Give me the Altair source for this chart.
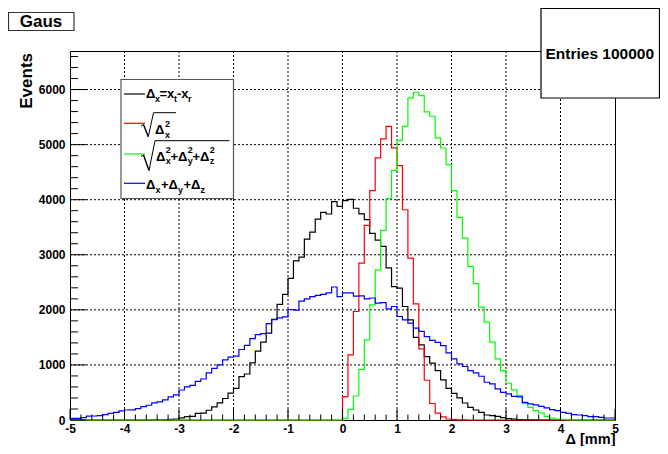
import altair as alt
import pandas as pd

# ---- data: 100 bins of width 0.1 from -5 to 5 ----
bin_left = [round(-5.0 + 0.1 * i, 1) for i in range(100)]

black = [0,0,0,0,0,0,0,0,0,0,
         0,0,0,0,0,1,2,6,12,18,
         37,61,67,122,125,177,238,311,390,488,
         573,787,835,1037,1250,1415,1579,1829,2098,2280,
         2570,2890,2958,3285,3412,3648,3770,3740,3964,3879,
         3982,4005,3845,3742,3640,3388,3267,3152,2763,2420,
         2394,2061,1818,1500,1364,1150,1031,898,728,576,
         485,400,309,230,182,139,91,80,66,42,
         24,15,8,4,2,1,0,0,0,0,
         0,0,0,0,0,0,0,0,0,0]

red = [0]*50 + [424,1182,1970,2848,3533,4164,4758,5103,5333,4940,
                4618,3818,2940,2109,1290,722,300,125,58,18,
                6,2,1,0,0,0,0,0,0,0,
                0,0,0,0,0,0,0,0,0,0,
                0,0,0,0,0,0,0,0,0,0]

green = [0]*50 + [30,194,436,921,1455,2091,2720,3442,4018,4533,
                  5078,5333,5848,5951,5891,5594,5515,5121,4939,4636,
                  4164,3679,3303,2790,2477,2051,1778,1414,1111,898,
                  667,546,443,302,230,169,127,66,36,18,
                  12,6,3,2,1,1,0,0,0,0]

blue = [28,30,42,70,73,79,97,122,140,164,
        182,185,207,243,268,310,328,365,420,456,
        545,600,630,700,744,854,939,1000,1091,1140,
        1159,1280,1354,1476,1549,1567,1750,1823,1854,1872,
        2006,1994,2159,2200,2240,2262,2282,2307,2415,2240,
        2310,2310,2250,2255,2200,2215,2121,2133,2018,2061,
        1879,1818,1758,1667,1610,1515,1445,1410,1350,1218,
        1110,1020,971,898,856,794,685,656,565,503,
        474,430,420,321,291,273,248,219,188,170,
        139,121,97,91,79,61,61,48,36,36]

series_names = ["dx", "sqrt_dx2", "sqrt_sum", "sum"]
series_vals = [black, red, green, blue]
series_colors = ["#000000", "#ff0000", "#00ff00", "#0000ff"]

x_major = [-5, -4, -3, -2, -1, 0, 1, 2, 3, 4, 5]
x_minor = [round(-5 + 0.2 * i, 1) for i in range(51) if (i % 5) != 0]
y_major = [0, 1000, 2000, 3000, 4000, 5000, 6000]
y_minor = [v for v in range(0, 6700, 200) if v % 1000 != 0]
x_grid = [-4, -3, -2, -1, 0, 1, 2, 3, 4]
y_grid = [1000, 2000, 3000, 4000, 5000, 6000]

rows = []
for name, vals in zip(series_names, series_vals):
    for xl, v in zip(bin_left, vals):
        rows.append({"s": name, "x": xl, "y": v})
    rows.append({"s": name, "x": 5.0, "y": vals[-1]})
df = pd.DataFrame(rows)

FONT = "Liberation Sans"
W, H = 545, 369
xs = alt.Scale(domain=[-5, 5], nice=False, zero=False)
ys = alt.Scale(domain=[0, 6700], nice=False, zero=False)

x_axis = alt.Axis(values=x_major, title=None, ticks=False, tickSize=0, domain=False, grid=False,
                  labelFont=FONT, labelFontWeight="bold", labelFontSize=12,
                  labelColor="black", labelPadding=3, labelFlush=False,
                  labelExpr="'' + datum.value")
y_axis = alt.Axis(values=y_major, title=None, ticks=False, tickSize=0, domain=False, grid=False,
                  labelFont=FONT, labelFontWeight="bold", labelFontSize=12,
                  labelColor="black", labelPadding=5, labelFlush=False,
                  format="d")

# dotted grid lines (rules spanning the whole plot)
grid_x = alt.Chart(pd.DataFrame({"gx": x_grid})).mark_rule(
    color="#000000", strokeWidth=1, strokeDash=[2, 2]).encode(
    x=alt.X("gx:Q", scale=xs, axis=x_axis), y=alt.value(0), y2=alt.value(H))
grid_y = alt.Chart(pd.DataFrame({"gy": y_grid})).mark_rule(
    color="#000000", strokeWidth=1, strokeDash=[2, 2]).encode(
    y=alt.Y("gy:Q", scale=ys, axis=y_axis), x=alt.value(0), x2=alt.value(W))

hist_layers = []
for name, col in zip(series_names, series_colors):
    d = df[df["s"] == name]
    hist_layers.append(
        alt.Chart(d).mark_line(interpolate="step-after", color=col, strokeWidth=1.2).encode(
            x=alt.X("x:Q", scale=xs, axis=x_axis),
            y=alt.Y("y:Q", scale=ys, axis=y_axis),
        )
    )

def tick_layer(vals, axis, length):
    d = pd.DataFrame({"v": vals})
    if axis == "x":
        return alt.Chart(d).mark_rule(color="black", strokeWidth=1).encode(
            x=alt.X("v:Q", scale=xs, axis=x_axis), y=alt.value(H), y2=alt.value(H - length))
    return alt.Chart(d).mark_rule(color="black", strokeWidth=1).encode(
        y=alt.Y("v:Q", scale=ys, axis=y_axis), x=alt.value(0), x2=alt.value(length))

ticks = [tick_layer(x_major, "x", 11), tick_layer(x_minor, "x", 5.5),
         tick_layer(y_major, "y", 16), tick_layer(y_minor, "y", 8)]

one = pd.DataFrame({"a": [0]})
OX, OY = 70, 51  # plot origin in page pixels

def txt(s, px, py, size, align="left", color="black", angle=None):
    kw = dict(font=FONT, fontWeight="bold", fontSize=size, align=align, baseline="middle", color=color)
    enc = dict(x=alt.value(px - OX), y=alt.value(py - OY), text=alt.value(s))
    if angle is not None:
        kw["angle"] = angle
        enc["angle"] = alt.value(angle)
    return alt.Chart(one).mark_text(**kw).encode(**enc)

def seg(x1, y1, x2, y2, color="black", w=1.0):
    return alt.Chart(one).mark_rule(color=color, strokeWidth=w).encode(
        x=alt.value(x1 - OX), y=alt.value(y1 - OY), x2=alt.value(x2 - OX), y2=alt.value(y2 - OY))

def box(x1, y1, x2, y2, stroke="black", w=1.0):
    return alt.Chart(one).mark_rect(fill="white", stroke=stroke, strokeWidth=w).encode(
        x=alt.value(x1 - OX), y=alt.value(y1 - OY), x2=alt.value(x2 - OX), y2=alt.value(y2 - OY))

deco = []
# title box
deco.append(box(8.5, 12.5, 74, 30.5, stroke="#333", w=1.2))
deco.append(txt("Gaus", 41, 22, 17, align="center"))
# stats box
deco.append(box(541, 8.5, 659.5, 98, stroke="black", w=1.2))
deco.append(txt("Entries 100000", 545.5, 54, 15.5))
# axis titles
deco.append(txt("Events", 27, 53, 17, align="right", angle=270))
deco.append(txt("\u0394 [mm]", 615.5, 440, 14.5, align="right"))

# legend
deco.append(box(121, 79.5, 233.5, 198.5, stroke="#555", w=1.2))
for col, yy in zip(series_colors, [94, 123.3, 154, 183.3]):
    deco.append(seg(124, yy, 145, yy, color=col, w=1.2))
BIG, SM = 13, 9
# entry 1: Dx = xt - xr
deco += [txt("\u0394", 146, 94, BIG), txt("x", 155, 98.5, SM), txt("=x", 159.5, 94, BIG),
         txt("t", 174, 98.5, SM), txt("-x", 177, 94, BIG), txt("r", 188, 98.5, SM)]
# entry 2: sqrt(Dx^2)
deco += [seg(141, 126, 143.5, 124.5), seg(143.5, 124.5, 148.3, 136.7, w=1.4), seg(148.3, 136.7, 153.5, 112.7),
         seg(153.5, 112.7, 176, 112.7)]
deco += [txt("\u0394", 155, 130, BIG), txt("2", 165, 123.5, SM), txt("x", 165, 135, SM)]
# entry 3: sqrt(Dx^2+Dy^2+Dz^2)
deco += [seg(141, 156.5, 143.5, 155), seg(143.5, 155, 149, 170.5, w=1.4), seg(149, 170.5, 155, 140.7),
         seg(155, 140.7, 229.5, 140.7)]
for dx, sub in [(156, "x"), (178, "y"), (200, "z")]:
    deco += [txt("\u0394", dx, 157.3, BIG), txt("2", dx + 9.7, 150, SM), txt(sub, dx + 9.7, 161, SM)]
deco += [txt("+", 170.5, 157.3, BIG), txt("+", 192.5, 157.3, BIG)]
# entry 4: Dx+Dy+Dz
for dx, sub in [(146, "x"), (168.5, "y"), (191, "z")]:
    deco += [txt("\u0394", dx, 185, BIG), txt(sub, dx + 9.6, 190, SM)]
deco += [txt("+", 161, 185, BIG), txt("+", 183.5, 185, BIG)]

chart = alt.layer(grid_x, grid_y, *hist_layers, *ticks, *deco).properties(
    width=W, height=H,
    padding={"left": 62, "top": 43, "right": 45, "bottom": 26},
    autosize=alt.AutoSizeParams(type="none"),
    background="white",
).configure_view(stroke="black", strokeWidth=1)

chart.save("out.html", embed_options={"renderer": "svg", "actions": False})
